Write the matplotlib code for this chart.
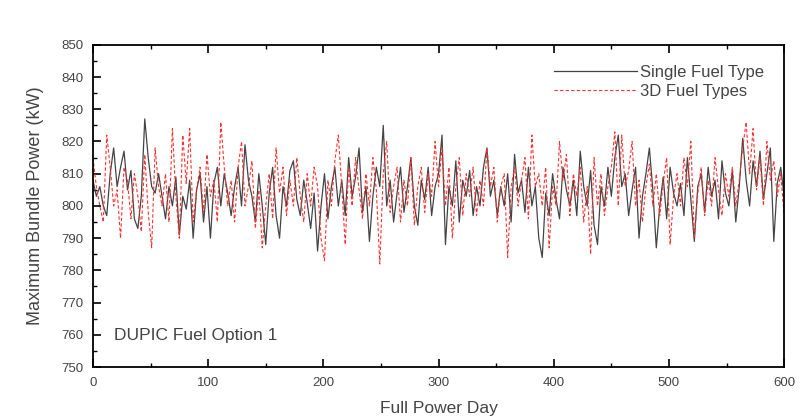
import numpy as np
import matplotlib
matplotlib.use("Agg")
import matplotlib.pyplot as plt
from matplotlib.ticker import MultipleLocator

plt.rcParams['font.family'] = ['Liberation Sans', 'DejaVu Sans']

### Values, one every 3 days (0 .. 600)
days = np.arange(0, 601, 3).tolist() + [600]

single_fuel = [
    808, 803, 806, 800, 797, 810, 818, 806, 812, 817,
    805, 811, 796, 793, 803, 827, 815, 806, 804, 810,
    803, 796, 806, 800, 809, 791, 803, 799, 808, 790,
    805, 810, 795, 806, 790, 807, 812, 800, 810, 804,
    797, 806, 812, 800, 819, 808, 803, 795, 810, 800,
    788, 804, 812, 797, 790, 806, 800, 811, 814, 802,
    797, 808, 801, 793, 804, 786, 800, 810, 796, 806,
    812, 800, 808, 797, 815, 803, 809, 818, 798, 806,
    789, 803, 812, 806, 825, 800, 808, 795, 804, 812,
    798, 806, 815, 800, 794, 808, 802, 812, 797, 806,
    810, 822, 788, 806, 800, 814, 795, 808, 803, 811,
    797, 806, 800, 812, 818, 803, 808, 797, 806, 800,
    810, 795, 816, 804, 808, 798, 812, 800, 806, 790,
    784, 804, 797, 810, 802, 796, 812, 805, 800, 808,
    797, 817, 806, 800, 811, 794, 788, 806, 800, 812,
    803, 815, 822, 806, 810, 797, 805, 812, 790, 803,
    810, 818, 805, 787, 800, 809, 796, 812, 804, 800,
    807, 797, 815, 802, 789, 806, 810, 798, 812, 803,
    808, 796, 814, 804, 800, 811, 795, 806, 821, 808,
    800, 814, 806, 817, 802, 810, 818, 789, 807, 812,
    803,
]

fuel_types_30 = [
    815, 806, 800, 795, 822, 812, 800, 805, 790, 812,
    808, 796, 810, 803, 792, 816, 798, 787, 818, 806,
    800, 810, 795, 824, 803, 790, 822, 807, 824, 795,
    805, 812, 798, 816, 803, 808, 795, 826, 812, 800,
    808, 795, 812, 820, 800, 806, 814, 793, 805, 787,
    800, 810, 796, 818, 804, 812, 797, 808, 800, 815,
    803, 795, 810, 800, 812, 806, 790, 783, 808, 800,
    814, 822, 806, 788, 812, 800, 815, 805, 796, 810,
    800, 815, 805, 782, 810, 820, 798, 806, 812, 795,
    808, 800, 815, 794, 806, 812, 798, 810, 803, 820,
    806, 818, 800, 812, 790, 806, 815, 797, 810, 803,
    812, 797, 808, 800, 818, 806, 812, 795, 806, 810,
    784, 806, 812, 800, 808, 815, 796, 822, 806, 810,
    800, 812, 787, 806, 800, 820, 808, 816, 797, 810,
    803, 812, 795, 806, 785, 815, 800, 810, 797, 806,
    812, 823, 800, 822, 806, 811, 820, 800, 808, 795,
    806, 813, 800, 810, 797, 807, 815, 788, 803, 810,
    800, 815, 806, 820, 790, 804, 812, 797, 808, 800,
    815, 805, 797, 810, 803, 812, 800, 808, 818, 826,
    810, 824, 805, 815, 800, 820, 808, 814, 803, 810,
    797,
]

days = days[:len(single_fuel)]

fig = plt.figure(figsize=(8.01, 4.19), dpi=100)
ax = fig.add_axes([0.116, 0.124, 0.863, 0.769])

ax.plot(days, single_fuel, color='#444444', lw=0.9, label='Single Fuel Type')
ax.plot(days, fuel_types_30, color='#ff3030', lw=0.8, ls=(0, (3, 2)),
        label='3D Fuel Types')

ax.set_xlim(0, 600)
ax.set_ylim(750, 850)
ax.xaxis.set_major_locator(MultipleLocator(100))
ax.xaxis.set_minor_locator(MultipleLocator(50))
ax.yaxis.set_major_locator(MultipleLocator(10))
ax.yaxis.set_minor_locator(MultipleLocator(5))
ax.tick_params(which='both', direction='in', top=True, right=False,
               labelsize=9.5, labelcolor='#444444', pad=7)
ax.tick_params(which='major', length=6, width=1.2)
ax.tick_params(which='minor', length=3, width=1.0)
for s in ax.spines.values():
    s.set_linewidth(1.3)

ax.set_xlabel('Full Power Day', fontsize=12.5, color='#444444', labelpad=9)
ax.set_ylabel('Maximum Bundle Power (kW)', fontsize=13, color='#444444',
              labelpad=12)

ax.text(0.03, 0.085, 'DUPIC Fuel Option 1', transform=ax.transAxes,
        fontsize=12.5, color='#444444')

ax.legend(loc='upper right', frameon=False, fontsize=12, handlelength=5,
          handletextpad=0.2, labelspacing=0.25, borderaxespad=0.9,
          borderpad=0.3, labelcolor='#444444')

fig.savefig('out.png', dpi=100)
